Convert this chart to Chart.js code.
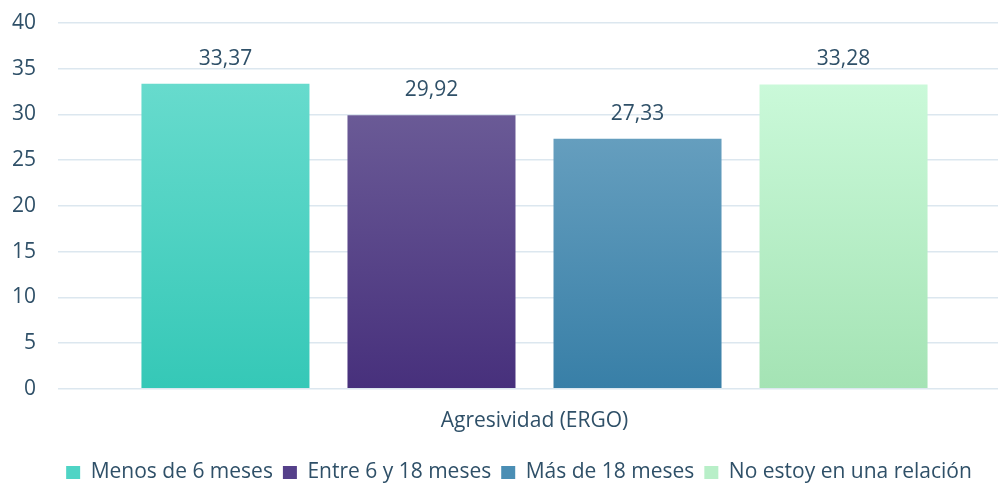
<!DOCTYPE html>
<html lang="es">
<head>
<meta charset="utf-8">
<script src="https://cdn.jsdelivr.net/npm/chart.js@4/dist/chart.umd.min.js"></script>
<style>
    html, body { margin: 0; padding: 0; background: #fff; }
    #wrap { width: 998px; height: 483px; }
</style>
</head>
<body>
<div id="wrap"><canvas id="graph-agresividad" width="998" height="483"></canvas></div>
<script>
// Données du graphique
const categories = ['Agresividad (ERGO)'];
const series = ['Menos de 6 meses', 'Entre 6 y 18 meses', 'Más de 18 meses', 'No estoy en una relación'];
const valeurs = [33.37, 29.92, 27.33, 33.28];
const ticksY = [0, 5, 10, 15, 20, 25, 30, 35, 40];

// Couleurs haut / bas de chaque barre
const couleursHaut = ['#67dbcd', '#6a5a96', '#659ebe', '#caf9d9'];
const couleursBas = ['#35c8b7', '#47307c', '#387fa7', '#a4e3b4'];
const couleursLegende = ['#4fd4c5', '#55408a', '#4a8eb4', '#b8efc8'];

const couleurTexte = '#2f5068';
const police = "'Open Sans', sans-serif";
const taille = 21;

function remplissageDegrade(i) {
    return (context) => {
        const chart = context.chart;
        const { chartArea, scales } = chart;
        if (!chartArea || context.raw === undefined) {
            return couleursHaut[i];
        }
        const yHaut = scales.y.getPixelForValue(context.raw);
        const yBas = scales.y.getPixelForValue(0);
        const g = chart.ctx.createLinearGradient(0, yHaut, 0, yBas);
        g.addColorStop(0, couleursHaut[i]);
        g.addColorStop(1, couleursBas[i]);
        return g;
    };
}

// Décale un peu le groupe de barres vers la droite (comme dans Excel)
const decalageCategorie = {
    id: 'decalageCategorie',
    afterLayout(chart) {
        const x = chart.scales.x;
        x.left += 13;
        x.width = x.right - x.left;
        x.configure();
    }
};

// Étiquettes de valeur au-dessus des barres
const etiquettesValeurs = {
    id: 'etiquettesValeurs',
    afterDatasetsDraw(chart) {
        const ctx = chart.ctx;
        ctx.save();
        ctx.font = `${taille}px ${police}`;
        ctx.fillStyle = couleurTexte;
        ctx.textAlign = 'center';
        ctx.textBaseline = 'middle';
        chart.data.datasets.forEach((ds, i) => {
            const meta = chart.getDatasetMeta(i);
            meta.data.forEach((bar, j) => {
                const texte = ds.data[j].toFixed(2).replace('.', ',');
                ctx.fillText(texte, bar.x, bar.y - 25);
            });
        });
        ctx.restore();
    }
};

new Chart(document.getElementById('graph-agresividad').getContext('2d'), {
    type: 'bar',
    data: {
        labels: categories,
        datasets: series.map((nom, i) => ({
            label: nom,
            data: [valeurs[i]],
            backgroundColor: remplissageDegrade(i),
            borderWidth: 0,
            barPercentage: 0.8155,
            categoryPercentage: 0.889
        }))
    },
    options: {
        responsive: false,
        animation: false,
        devicePixelRatio: 1,
        layout: {
            autoPadding: false,
            padding: { left: 40, right: 0, top: 23, bottom: -10 }
        },
        scales: {
            x: {
                afterFit(axis) {
                    axis.height += 6;
                },
                grid: { display: false },
                border: { display: false },
                ticks: {
                    color: couleurTexte,
                    font: { family: police, size: taille },
                    padding: 12
                }
            },
            y: {
                min: 0,
                max: 40,
                afterBuildTicks(axis) {
                    axis.ticks = ticksY.map(v => ({ value: v }));
                },
                afterFit(axis) {
                    // axe étroit : les libellés débordent à gauche sans être coupés
                    axis.width = 18;
                    axis.paddingTop = 0;
                    axis.paddingBottom = 0;
                    axis._computeLabelArea = () => undefined;
                },
                grid: { color: '#dce7ef', lineWidth: 1.5, drawTicks: false },
                border: { display: false },
                ticks: {
                    color: couleurTexte,
                    font: { family: police, size: taille },
                    padding: 22
                }
            }
        },
        plugins: {
            legend: {
                position: 'bottom',
                labels: {
                    color: couleurTexte,
                    font: { family: police, size: taille },
                    boxWidth: 14,
                    boxHeight: 13,
                    padding: 10,
                    generateLabels(chart) {
                        return chart.data.datasets.map((ds, i) => ({
                            text: ds.label,
                            fillStyle: couleursLegende[i],
                            strokeStyle: couleursLegende[i],
                            lineWidth: 0,
                            datasetIndex: i,
                            hidden: false,
                            fontColor: couleurTexte
                        }));
                    }
                }
            },
            tooltip: { enabled: false }
        }
    },
    plugins: [decalageCategorie, etiquettesValeurs]
});
</script>
</body>
</html>
